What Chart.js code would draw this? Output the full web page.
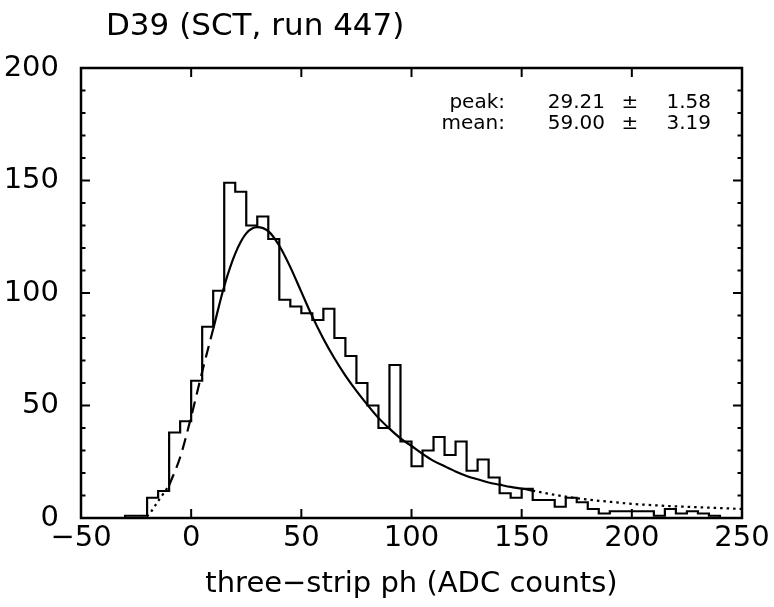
<!DOCTYPE html>
<html>
<head>
<meta charset="utf-8">
<script src="https://cdn.jsdelivr.net/npm/chart.js@4.4.1/dist/chart.umd.min.js"></script>
<style>
  html, body { margin: 0; padding: 0; background: #fff; }
</style>
</head>
<body>
<canvas id="hist" width="774" height="607"></canvas>
<script>
// labels
const plotTitle = "D39 (SCT, run 447)";
const xTitle = "three\u2212strip ph (ADC counts)";

// histogram: left bin edges (width 5) and counts
const binWidth = 5;
const binLeft = [-30, -25, -20, -15, -10, -5, 0, 5, 10, 15, 20, 25, 30, 35, 40, 45, 50, 55,
  60, 65, 70, 75, 80, 85, 90, 95, 100, 105, 110, 115, 120, 125, 130, 135, 140, 145,
  150, 155, 160, 165, 170, 175, 180, 185, 190, 195, 200, 205, 210, 215, 220, 225,
  230, 235, 240, 245];
const counts = [1, 1, 9, 12, 38, 43, 61, 85, 101, 149, 145, 130, 134, 124, 97, 94, 91, 88,
  93, 80, 72, 60, 50, 40, 68, 34, 23, 30, 36, 28, 34, 21, 26, 18, 11, 9,
  13, 8, 8, 5, 9, 7, 4, 2, 3, 3, 3, 3, 1, 4, 2, 3,
  2, 1, 0, 0];

// fitted curve
const fitX = [-23, -20, -15, -10, -5, 0, 5, 10, 15, 20, 25, 30, 35, 40, 45, 50, 55, 60,
  65, 70, 75, 80, 85, 90, 95, 100, 105, 110, 115, 120, 125, 130, 135, 140, 145, 150,
  155, 160, 170, 180, 190, 200, 215, 230, 250];
const fitY = [0, 0.8, 7.5, 14.5, 27, 45, 65, 84, 103, 117.5, 126.5, 129.3, 127.5, 121, 111.5, 100.5, 89.5, 79.7,
  71, 63.3, 56.5, 50.3, 44.5, 39.7, 35.4, 32, 28.5, 25.4, 23, 20.7, 18.7, 17.2, 15.8, 14.8, 13.8, 13.1,
  12.2, 11.2, 9.5, 8.2, 7.2, 6.3, 5.4, 4.8, 4.0];
const fitFrom = 10;   // solid part of the fit
const fitTo = 155;
const dashFrom = -10; // dashed extrapolation below the fit range

// axes
const xTicks = [-50, 0, 50, 100, 150, 200, 250];
const yTicks = [0, 50, 100, 150, 200];
const yMinorStep = 10;

// fit results box
const statNames = ["peak:", "mean:"];
const statValues = ["29.21", "59.00"];
const statErrors = ["1.58", "3.19"];

const FONT = '"DejaVu Sans", "Liberation Sans", sans-serif';

// histogram outline as corner points
let histPts = [{x: binLeft[0], y: 0}];
binLeft.forEach(function(l, i){
  histPts.push({x: l, y: counts[i]});
  histPts.push({x: l + binWidth, y: counts[i]});
});
histPts.push({x: binLeft[binLeft.length - 1] + binWidth, y: 0});

let fitPts = fitX.map((x, i) => ({x: x, y: fitY[i]}));
let part = (a, b) => fitPts.filter(p => p.x >= a && p.x <= b);

const fmt = v => v < 0 ? '\u2212' + Math.abs(v) : String(v);

const framePlugin = {
  id: 'frame',
  afterDatasetsDraw(chart) {
    const {ctx, chartArea: a, scales: {x, y}} = chart;
    ctx.save();
    ctx.strokeStyle = '#000';
    ctx.lineWidth = 2.5;
    ctx.strokeRect(a.left, a.top, a.right - a.left, a.bottom - a.top);
    ctx.lineWidth = 2;
    ctx.beginPath();
    xTicks.forEach(function(v){
      let px = x.getPixelForValue(v);
      ctx.moveTo(px, a.bottom); ctx.lineTo(px, a.bottom - 9);
      ctx.moveTo(px, a.top); ctx.lineTo(px, a.top + 9);
    });
    for (let v = y.min; v <= y.max; v += yMinorStep) {
      let py = y.getPixelForValue(v);
      let len = (v % 50 === 0) ? 9 : 4.5;
      ctx.moveTo(a.left, py); ctx.lineTo(a.left + len, py);
      ctx.moveTo(a.right, py); ctx.lineTo(a.right - len, py);
    }
    ctx.stroke();
    ctx.restore();
  },
  afterDraw(chart) {
    const ctx = chart.ctx;
    ctx.save();
    ctx.fillStyle = '#000';
    ctx.textBaseline = 'alphabetic';
    ctx.font = '31px ' + FONT;
    ctx.textAlign = 'left';
    ctx.fillText(plotTitle, 106, 35);

    ctx.font = '20px ' + FONT;
    let rows = [108, 129];
    statNames.forEach(function(n, i){
      ctx.textAlign = 'right';
      ctx.fillText(n, 505, rows[i]);
      ctx.fillText(statValues[i], 605, rows[i]);
      ctx.fillText(statErrors[i], 711, rows[i]);
      ctx.textAlign = 'center';
      ctx.fillText('\u00b1', 630, rows[i]);
    });
    ctx.restore();
  }
};

const line = (data, dash) => ({
  data: data,
  borderColor: '#000',
  borderWidth: 2.2,
  borderDash: dash,
  pointRadius: 0,
  fill: false,
  cubicInterpolationMode: 'monotone'
});

let histDs = line(histPts, []);
histDs.cubicInterpolationMode = 'default';
histDs.tension = 0;

const chart = new Chart(document.getElementById('hist').getContext('2d'), {
  type: 'line',
  data: {
    datasets: [
      histDs,
      line(part(fitX[0], dashFrom), [2.5, 4]),
      line(part(dashFrom, fitFrom), [12, 7]),
      line(part(fitFrom, fitTo), []),
      line(part(fitTo, fitX[fitX.length - 1]), [2.5, 4])
    ]
  },
  options: {
    responsive: false,
    animation: false,
    devicePixelRatio: 1,
    layout: { padding: { top: 68, right: 32, left: 0, bottom: 0 } },
    plugins: {
      legend: { display: false },
      tooltip: { enabled: false }
    },
    scales: {
      x: {
        type: 'linear',
        min: -50,
        max: 250,
        afterBuildTicks: s => { s.ticks = xTicks.map(v => ({value: v})); },
        afterFit: s => { s.height = 89; },
        grid: { display: false },
        border: { display: false },
        ticks: {
          autoSkip: false,
          maxRotation: 0,
          padding: -2,
          color: '#000',
          font: { family: FONT, size: 29, lineHeight: 1 },
          callback: v => fmt(v)
        },
        title: {
          display: true,
          text: xTitle,
          color: '#000',
          font: { family: FONT, size: 29, lineHeight: 1.2 },
          padding: { top: 0, bottom: 5 }
        }
      },
      y: {
        min: 0,
        max: 200,
        afterBuildTicks: s => { s.ticks = yTicks.map(v => ({value: v})); },
        afterFit: s => { s.width = 81; },
        grid: { display: false },
        border: { display: false },
        ticks: {
          padding: 14,
          color: '#000',
          font: { family: FONT, size: 29, lineHeight: 1 },
          callback: v => fmt(v)
        }
      }
    }
  },
  plugins: [framePlugin]
});
</script>
</body>
</html>
